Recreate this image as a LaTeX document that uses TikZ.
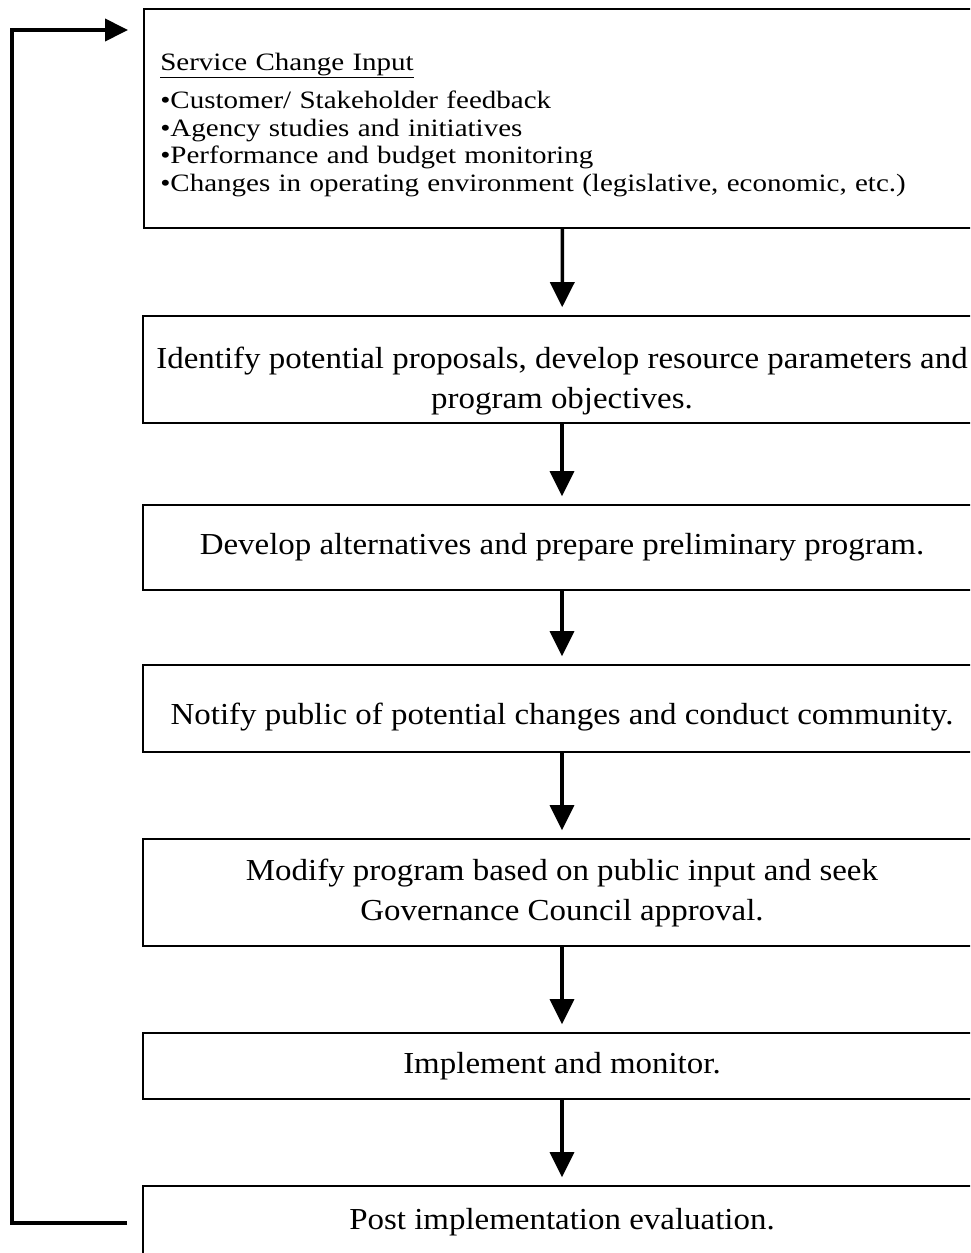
\documentclass[tikz,border=0pt]{standalone}
\usepackage{fontspec}
\setmainfont{Liberation Serif}[FakeStretch=1.08]
\newfontfamily\listfont{Liberation Serif}[FakeStretch=1.16]
\usetikzlibrary{arrows.meta}

\tikzset{
    stagebox/.style={draw, line width=1.6pt, minimum width=838pt, inner sep=0pt, align=center,
        font=\fontsize{30.5}{40}\selectfont},
    flow/.style={line width=3.5pt, -{Triangle[length=25pt, width=24pt]}, shorten >=8pt},
    backline/.style={line width=4pt, -{Triangle[length=23pt, width=22pt]}}
}

\begin{document}
\begin{tikzpicture}[x=1pt, y=-1pt]
    \useasboundingbox (0,0) rectangle (970,1253);
    \clip (0,0) rectangle (970,1253);

    % service change input
    \node[stagebox, anchor=north west, minimum height=219pt, align=left, text width=805pt,
        font=\listfont\fontsize{25}{27.5}\selectfont] (input) at (143,8)
        {\rule{0pt}{31pt}\underline{Service Change Input}\\[10.5pt]
         \textbullet Customer/ Stakeholder feedback\\
         \textbullet Agency studies and initiatives\\
         \textbullet Performance and budget monitoring\\
         \textbullet Changes in operating environment (legislative, economic, etc.)};

    % process steps
    \node[stagebox, minimum height=107pt] (identify) at (562,369.5)
        {\rule{0pt}{45pt}Identify potential proposals, develop resource parameters and\\ program objectives.};
    \node[stagebox, minimum height=85pt] (develop) at (562,547.5)
        {Develop alternatives and prepare preliminary program.};
    \node[stagebox, minimum height=87pt] (notify) at (562,708.5)
        {\rule{0pt}{39pt}Notify public of potential changes and conduct community.};
    \node[stagebox, minimum height=107pt] (modify) at (562,892.5)
        {Modify program based on public input and seek\\ Governance Council approval.};
    \node[stagebox, minimum height=66pt] (implement) at (562,1066)
        {Implement and monitor.};
    \node[stagebox, minimum height=73pt] (evaluate) at (562,1222.5)
        {Post implementation evaluation.};

    \draw[flow] (input) -- (identify);
    \draw[flow] (identify) -- (develop);
    \draw[flow] (develop) -- (notify);
    \draw[flow] (notify) -- (modify);
    \draw[flow] (modify) -- (implement);
    \draw[flow] (implement) -- (evaluate);

    % feedback loop
    \coordinate (loopTop) at (12,30);
    \draw[backline] ([xshift=-15pt]evaluate.west) -| (loopTop) -- ([xshift=-15pt]input.north west |- loopTop);
\end{tikzpicture}
\end{document}
